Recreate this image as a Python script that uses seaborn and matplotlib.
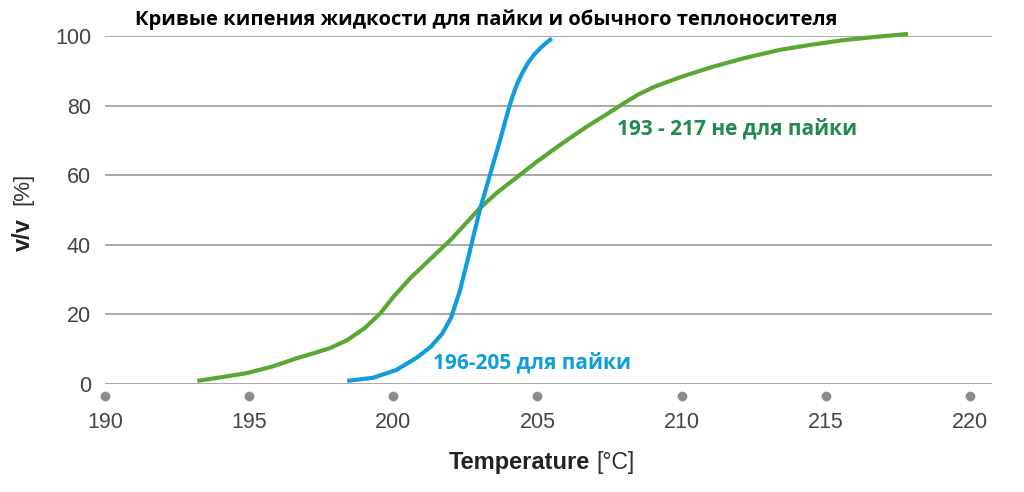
import matplotlib
matplotlib.use("Agg")
import matplotlib.pyplot as plt
import seaborn as sns
import pandas as pd

# ---- data ----
green_temp = [193.2, 194.0, 194.9, 195.8, 196.65, 197.3, 197.8, 198.4, 199.0, 199.55,
              200.0, 200.6, 201.27, 202.0, 202.5, 203.0, 203.6, 204.3, 205.0, 205.8,
              206.7, 207.4, 208.0, 208.5, 209.05, 210.0, 211.1, 212.2, 213.4, 214.5,
              215.7, 216.8, 217.85]
green_vol = [0.9, 1.9, 3.1, 5.0, 7.4, 9.0, 10.3, 12.6, 16.0, 20.3,
             25.0, 30.5, 35.8, 41.5, 46.0, 50.5, 55.0, 59.5, 64.0, 68.8,
             73.9, 77.5, 80.7, 83.2, 85.4, 88.3, 91.2, 93.7, 96.0, 97.5,
             98.9, 99.8, 100.6]
blue_temp = [198.4, 199.3, 200.1, 200.8, 201.3, 201.7, 202.0, 202.3, 202.65, 203.0,
             203.35, 203.7, 204.0, 204.15, 204.3, 204.5, 204.7, 204.9, 205.1, 205.3, 205.5]
blue_vol = [0.9, 1.8, 4.0, 7.5, 10.7, 14.5, 19.0, 26.5, 38.0, 50.0,
            60.0, 70.0, 79.0, 83.0, 86.3, 89.8, 92.6, 94.8, 96.5, 98.0, 99.3]
x_ticks = [190, 195, 200, 205, 210, 215, 220]
y_ticks = [0, 20, 40, 60, 80, 100]

title = "Кривые кипения жидкости для пайки и обычного теплоносителя"
label_blue = "196-205 для пайки"
label_green = "193 - 217 не для пайки"

BLUE = "#0f9ddc"
GREEN = "#5aa834"
GREEN_TXT = "#1f8a4c"
GRID = "#9a9a9a"

sns.set_theme(style="white")
plt.rcParams["font.family"] = ["Liberation Sans", "DejaVu Sans"]

fig = plt.figure(figsize=(10.24, 4.92), dpi=100)
W, H = 1024, 492
ax = fig.add_axes([105 / W, 1 - 384 / H, 887 / W, 348 / H])

df_g = pd.DataFrame({"t": green_temp, "v": green_vol})
df_b = pd.DataFrame({"t": blue_temp, "v": blue_vol})
sns.lineplot(data=df_g, x="t", y="v", ax=ax, color=GREEN, lw=3.0, sort=False,
             estimator=None, clip_on=False, solid_capstyle="butt",
             solid_joinstyle="round", zorder=3)
sns.lineplot(data=df_b, x="t", y="v", ax=ax, color=BLUE, lw=3.0, sort=False,
             estimator=None, clip_on=False, solid_capstyle="butt",
             solid_joinstyle="round", zorder=3)

ax.set_xlim(190, 190 + 887 / 28.83)
ax.set_ylim(0, 100)
for s in ax.spines.values():
    s.set_visible(False)
for yv in y_ticks:
    ax.axhline(yv, color=GRID, lw=1.2, zorder=1)

# tick dots under the axis
ax.plot(x_ticks, [-3.5] * len(x_ticks), "o", color="#8c8c8c", ms=6,
        clip_on=False, zorder=2)

ax.set_xticks(x_ticks)
ax.set_xticklabels([str(t) for t in x_ticks])
ax.set_yticks(y_ticks)
ax.set_yticklabels([str(t) for t in y_ticks])
ax.tick_params(axis="x", length=0, pad=20, labelsize=15.5, labelcolor="#444444")
ax.tick_params(axis="y", length=0, pad=10, labelsize=15.5, labelcolor="#444444")
ax.set_xlabel("")
ax.set_ylabel("")

# axis labels (bold part + normal part)
fig.text(590 / W, 1 - 463 / H, "Temperature", ha="right", va="center",
         fontsize=17, fontweight="bold", color="#222222")
fig.text(596 / W, 1 - 463 / H, "[°C]", ha="left", va="center",
         fontsize=16.5, color="#333333")
fig.text(23 / W, 1 - 251 / H, "v/v", ha="center", va="bottom", rotation=90,
         fontsize=17, fontweight="bold", color="#222222")
fig.text(23 / W, 1 - 205 / H, "[%]", ha="center", va="bottom", rotation=90,
         fontsize=16, color="#333333")

# title and annotations
fig.text(135 / W, 1 - 20 / H, title, ha="left", va="center", fontsize=14.5,
         fontweight="bold", color="black", family=["Open Sans", "DejaVu Sans"])
fig.text(433 / W, 1 - 363 / H, label_blue, ha="left", va="center", fontsize=15,
         fontweight="bold", color=BLUE, family=["Open Sans", "DejaVu Sans"])
fig.text(617 / W, 1 - 129 / H, label_green, ha="left", va="center", fontsize=15,
         fontweight="bold", color=GREEN_TXT, family=["Open Sans", "DejaVu Sans"])

fig.savefig("out.png", dpi=100, facecolor="white")
